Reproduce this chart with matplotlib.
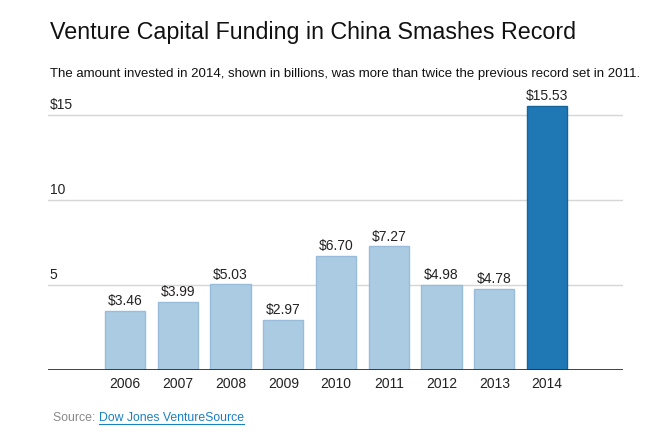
import matplotlib
matplotlib.use("Agg")
import matplotlib.pyplot as plt
from matplotlib.lines import Line2D

plt.rcParams['font.family'] = ['Liberation Sans', 'DejaVu Sans']

years = ["2006", "2007", "2008", "2009", "2010", "2011", "2012", "2013", "2014"]
amounts = [3.46, 3.99, 5.03, 2.97, 6.70, 7.27, 4.98, 4.78, 15.53]
ytick_vals = [5, 10, 15]
ytick_labels = ["5", "10", "$15"]

W, H = 672, 440
fig = plt.figure(figsize=(W / 100, H / 100), dpi=100)
ax = fig.add_axes([48 / W, 1 - 370 / H, (623 - 48) / W, (370 - 89.5) / H])

light, light_edge = '#abcbe3', '#98bcd9'
dark, dark_edge = '#1f77b4', '#15649c'
colors = [light] * (len(years) - 1) + [dark]
edges = [light_edge] * (len(years) - 1) + [dark_edge]

x = range(len(years))
bars = ax.bar(x, amounts, width=0.76, color=colors, edgecolor=edges, linewidth=1, zorder=3)

for xi, v in zip(x, amounts):
    ax.text(xi, v + 0.17, f"${v:.2f}", ha='center', va='bottom', fontsize=10, color='#222222')

ax.set_xlim(-1.46, 9.44)
ax.set_ylim(0, 16.5)

for v, lab in zip(ytick_vals, ytick_labels):
    ax.axhline(v, color='#d6d6d6', linewidth=1, zorder=1)
    ax.text(-1.43, v + 0.2, lab, ha='left', va='bottom', fontsize=10, color='#222222')

ax.axhline(0, color='#333333', linewidth=1.3, zorder=4)
ax.set_xticks(list(x))
ax.set_xticklabels(years, fontsize=10, color='#222222')
ax.tick_params(axis='x', length=0, pad=5)
ax.set_yticks([])
for s in ax.spines.values():
    s.set_visible(False)

fig.text(50 / W, 1 - 32 / H, "Venture Capital Funding in China Smashes Record",
         ha='left', va='center', fontsize=16.75, color='#111111')
fig.text(50 / W, 1 - 74 / H,
         "The amount invested in 2014, shown in billions, was more than twice the previous record set in 2011.",
         ha='left', va='center', fontsize=9.5, color='#111111')

src = fig.text(53 / W, 1 - 418 / H, "Source: ", ha='left', va='center', fontsize=8.85, color='#888888')
fig.canvas.draw()
bb = src.get_window_extent()
link = fig.text(bb.x1 / W, 1 - 418 / H, "Dow Jones VentureSource", ha='left', va='center',
                fontsize=8.85, color='#1a80c4')
fig.canvas.draw()
lb = link.get_window_extent()
fig.add_artist(Line2D([lb.x0 / W, lb.x1 / W], [(lb.y0 + 0.5) / H, (lb.y0 + 0.5) / H],
                      color='#1a80c4', linewidth=0.8))

fig.savefig("out.png", dpi=100)
